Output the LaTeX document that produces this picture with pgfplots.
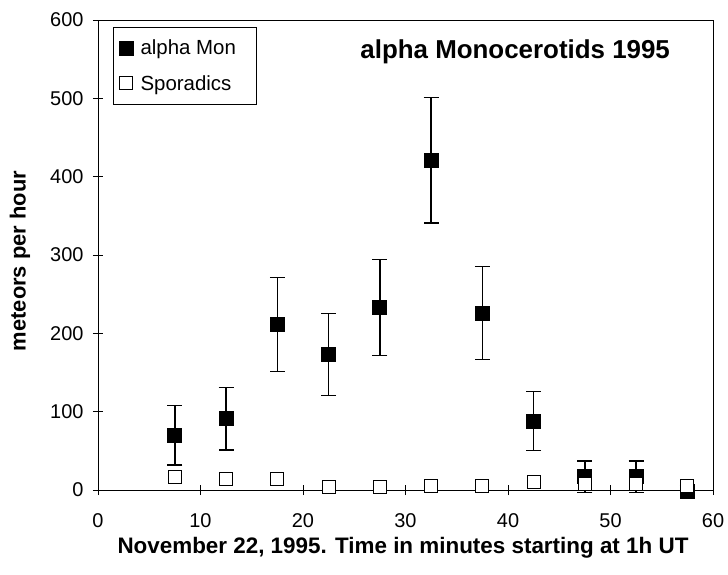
\documentclass[border=0pt]{standalone}
\usepackage{pgfplots}
\pgfplotsset{compat=1.18}
\usepackage{fontspec}
\setmainfont{Liberation Sans}
\begin{document}
\begin{tikzpicture}
\begin{axis}[
  scale only axis, width=615bp, height=470bp,
  xmin=0, xmax=60, ymin=0, ymax=600,
  xtick={0,10,...,60}, ytick={0,100,...,600},
  tick align=center, major tick length=10bp,
  xtick pos=bottom, ytick pos=left,
  axis line style={line width=0.8pt},
  tick style={black, line width=0.8pt},
  ticklabel style={font=\fontsize{20}{23}\selectfont},
  /pgf/number format/assume math mode=true,
  xticklabel style={yshift=-15bp},
  yticklabel style={xshift=-6bp},
  legend style={at={(rel axis cs:0.024,0.985)}, anchor=north west,
    font=\fontsize{20.5}{24}\selectfont, draw=black, line width=0.8pt,
    row sep=15bp, inner xsep=6bp, inner ysep=10.5bp},
  legend cell align=left,
  legend image code/.code={\draw[#1] plot coordinates {(0bp,0bp)}; \path (-6bp,0bp) (12bp,0bp);},
  clip=false,
]
\addplot[only marks, mark=square*, mark size=7bp, mark options={fill=black, draw=black, line width=0.8pt},
  error bars/.cd, y dir=both, y explicit, error mark=|, error mark options={mark size=7.5bp, line width=1.3pt},
  error bar style={line width=1.3pt}]
  coordinates {
  (7.5,70) +- (0,38)
  (12.5,91) +- (0,40)
  (17.5,211) +- (0,60)
  (22.5,173) +- (0,52)
  (27.5,233) +- (0,61)
  (32.5,421) +- (0,80)
  (37.5,226) +- (0,59)
  (42.5,88) +- (0,38)
  (47.5,17) +- (0,20)
  (52.5,17) +- (0,20)
  (57.5,-2) +- (0,8)
  };
\addlegendentry{alpha Mon\hspace*{12bp}}
\addplot[only marks, mark=square*, mark size=6.5bp, mark options={fill=white, draw=black, line width=1.2pt}]
  coordinates {
  (7.5,17) (12.5,14) (17.5,14) (22.5,4) (27.5,4) (32.5,5)
  (37.5,5) (42.5,10) (47.5,8) (52.5,8) (57.5,5)
  };
\addlegendentry{Sporadics\hspace*{12bp}}
\node[font=\bfseries\fontsize{26}{30}\selectfont] at (axis cs:40.7,560) {alpha Monocerotids 1995};
\end{axis}
\node[rotate=90, font=\bfseries\fontsize{22}{26}\selectfont] at (-78bp,229bp) {meteors per hour};
\node[font=\bfseries\fontsize{22.5}{26}\selectfont] at (305bp,-58bp) {November 22, 1995. Time in minutes starting at 1h UT};
\pgfresetboundingbox
\path (-98bp,-85bp) rectangle (630bp,490bp);
\end{tikzpicture}
\end{document}
